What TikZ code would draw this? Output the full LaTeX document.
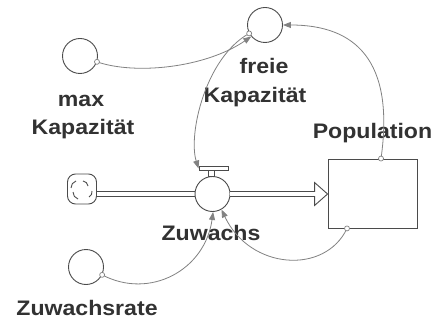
\documentclass[tikz,border=0pt]{standalone}
\usepackage{fontspec}
\newfontfamily\labfont[FakeStretch=1.1]{Liberation Sans}
\usetikzlibrary{arrows.meta}
\definecolor{ln}{RGB}{75,75,75}
\definecolor{cn}{RGB}{130,130,130}
\definecolor{tx}{RGB}{50,50,50}
\tikzset{
 aux/.style={circle, draw=ln, line width=0.9pt, minimum size=35pt, inner sep=0pt, fill=white},
 lab/.style={anchor=base, text=tx, font=\labfont\bfseries\fontsize{21}{26}\selectfont, inner sep=0pt},
 conn/.style={draw=cn, line width=0.8pt, -{Triangle[length=8pt,width=6pt]}},
 orig/.style={draw=cn, line width=0.7pt, fill=white},
 pipe/.style={draw=ln, double=white, double distance=3.5pt, line width=0.9pt},
 box/.style={draw=ln, line width=0.9pt, inner sep=0pt, fill=white},
 cloudmark/.style={draw=ln, line width=0.9pt},
}
\begin{document}
\begin{tikzpicture}[x=1pt,y=-1pt]
\useasboundingbox[fill=white] (0,0) rectangle (435,320);
% labels
\node[lab] (maxkl1) at (81,107) {max};
\node[lab] (maxkl2) at (83,135) {Kapazität};
\node[lab] (freiel1) at (264,74) {freie};
\node[lab] (freiel2) at (255,103) {Kapazität};
\node[lab] (popl) at (372.5,139) {Population};
\node[lab] (zuwl) at (211,240) {Zuwachs};
\node[lab] (ratel) at (87,315) {Zuwachsrate};
% stock, cloud, valve
\node[box, minimum width=89pt, minimum height=69pt] (pop) at (372.5,193.5) {};
\node[box, rounded corners=8pt, minimum width=29pt, minimum height=30pt] (cloud) at (82,189) {};
\draw[cloudmark] ([shift={(-11,-1)}]cloud.center) to[bend left=35] ([shift={(-6,-8)}]cloud.center);
\draw[cloudmark] ([shift={(1,-8)}]cloud.center) to[bend left=35] ([shift={(6,-3)}]cloud.center);
\draw[cloudmark] ([shift={(10,2)}]cloud.center) to[bend left=35] ([shift={(7,8)}]cloud.center);
\draw[cloudmark] ([shift={(-9,3)}]cloud.center) to[bend right=35] ([shift={(-4,10)}]cloud.center);
% pipes
\coordinate (ah) at ([xshift=-13pt]pop.west |- 0,194);
\draw[pipe] (cloud.east |- 0,194) -- (195,194);
\node[aux] (valve) at (212.5,194) {};
\draw[pipe] (valve.east) -- (ah);
\draw[ln, line width=0.9pt] ([yshift=2.2pt]ah) -- ([yshift=11.5pt]ah) -- (pop.west |- ah) -- ([yshift=-11.5pt]ah) -- ([yshift=-2.2pt]ah);
\node[box, minimum width=6pt, minimum height=6pt] (vstem) at (211.5,173.5) {};
\node[box, minimum width=29pt, minimum height=4pt] (vbar) at (213.5,168.5) {};
% auxiliaries
\node[aux] (maxk) at (80,56) {};
\node[aux] (freie) at (265,25) {};
\node[aux] (rate) at (86,267) {};
% connectors
\draw[conn] (maxk.-19) .. controls (135,75) and (205,68) .. (freie.220);
\draw[conn] (freie.208) .. controls (205,58) and (188,135) .. (vbar.west);
\draw[conn] ([xshift=8.5pt]pop.north) .. controls (395,60) and (355,25) .. (freie.east);
\draw[conn] (rate.-26) .. controls (150,300) and (205,270) .. (valve.-88);
\draw[conn] ([xshift=-25.5pt]pop.south) .. controls (325,275) and (250,270) .. (valve.-60);
% connector origins
\draw[orig] (maxk.-19) circle[radius=2.5pt];
\draw[orig] (freie.208) circle[radius=2.5pt];
\draw[orig] ([xshift=8.5pt]pop.north) circle[radius=2.5pt];
\draw[orig] (rate.-26) circle[radius=2.5pt];
\draw[orig] ([xshift=-25.5pt]pop.south) circle[radius=2.5pt];
\end{tikzpicture}
\end{document}
